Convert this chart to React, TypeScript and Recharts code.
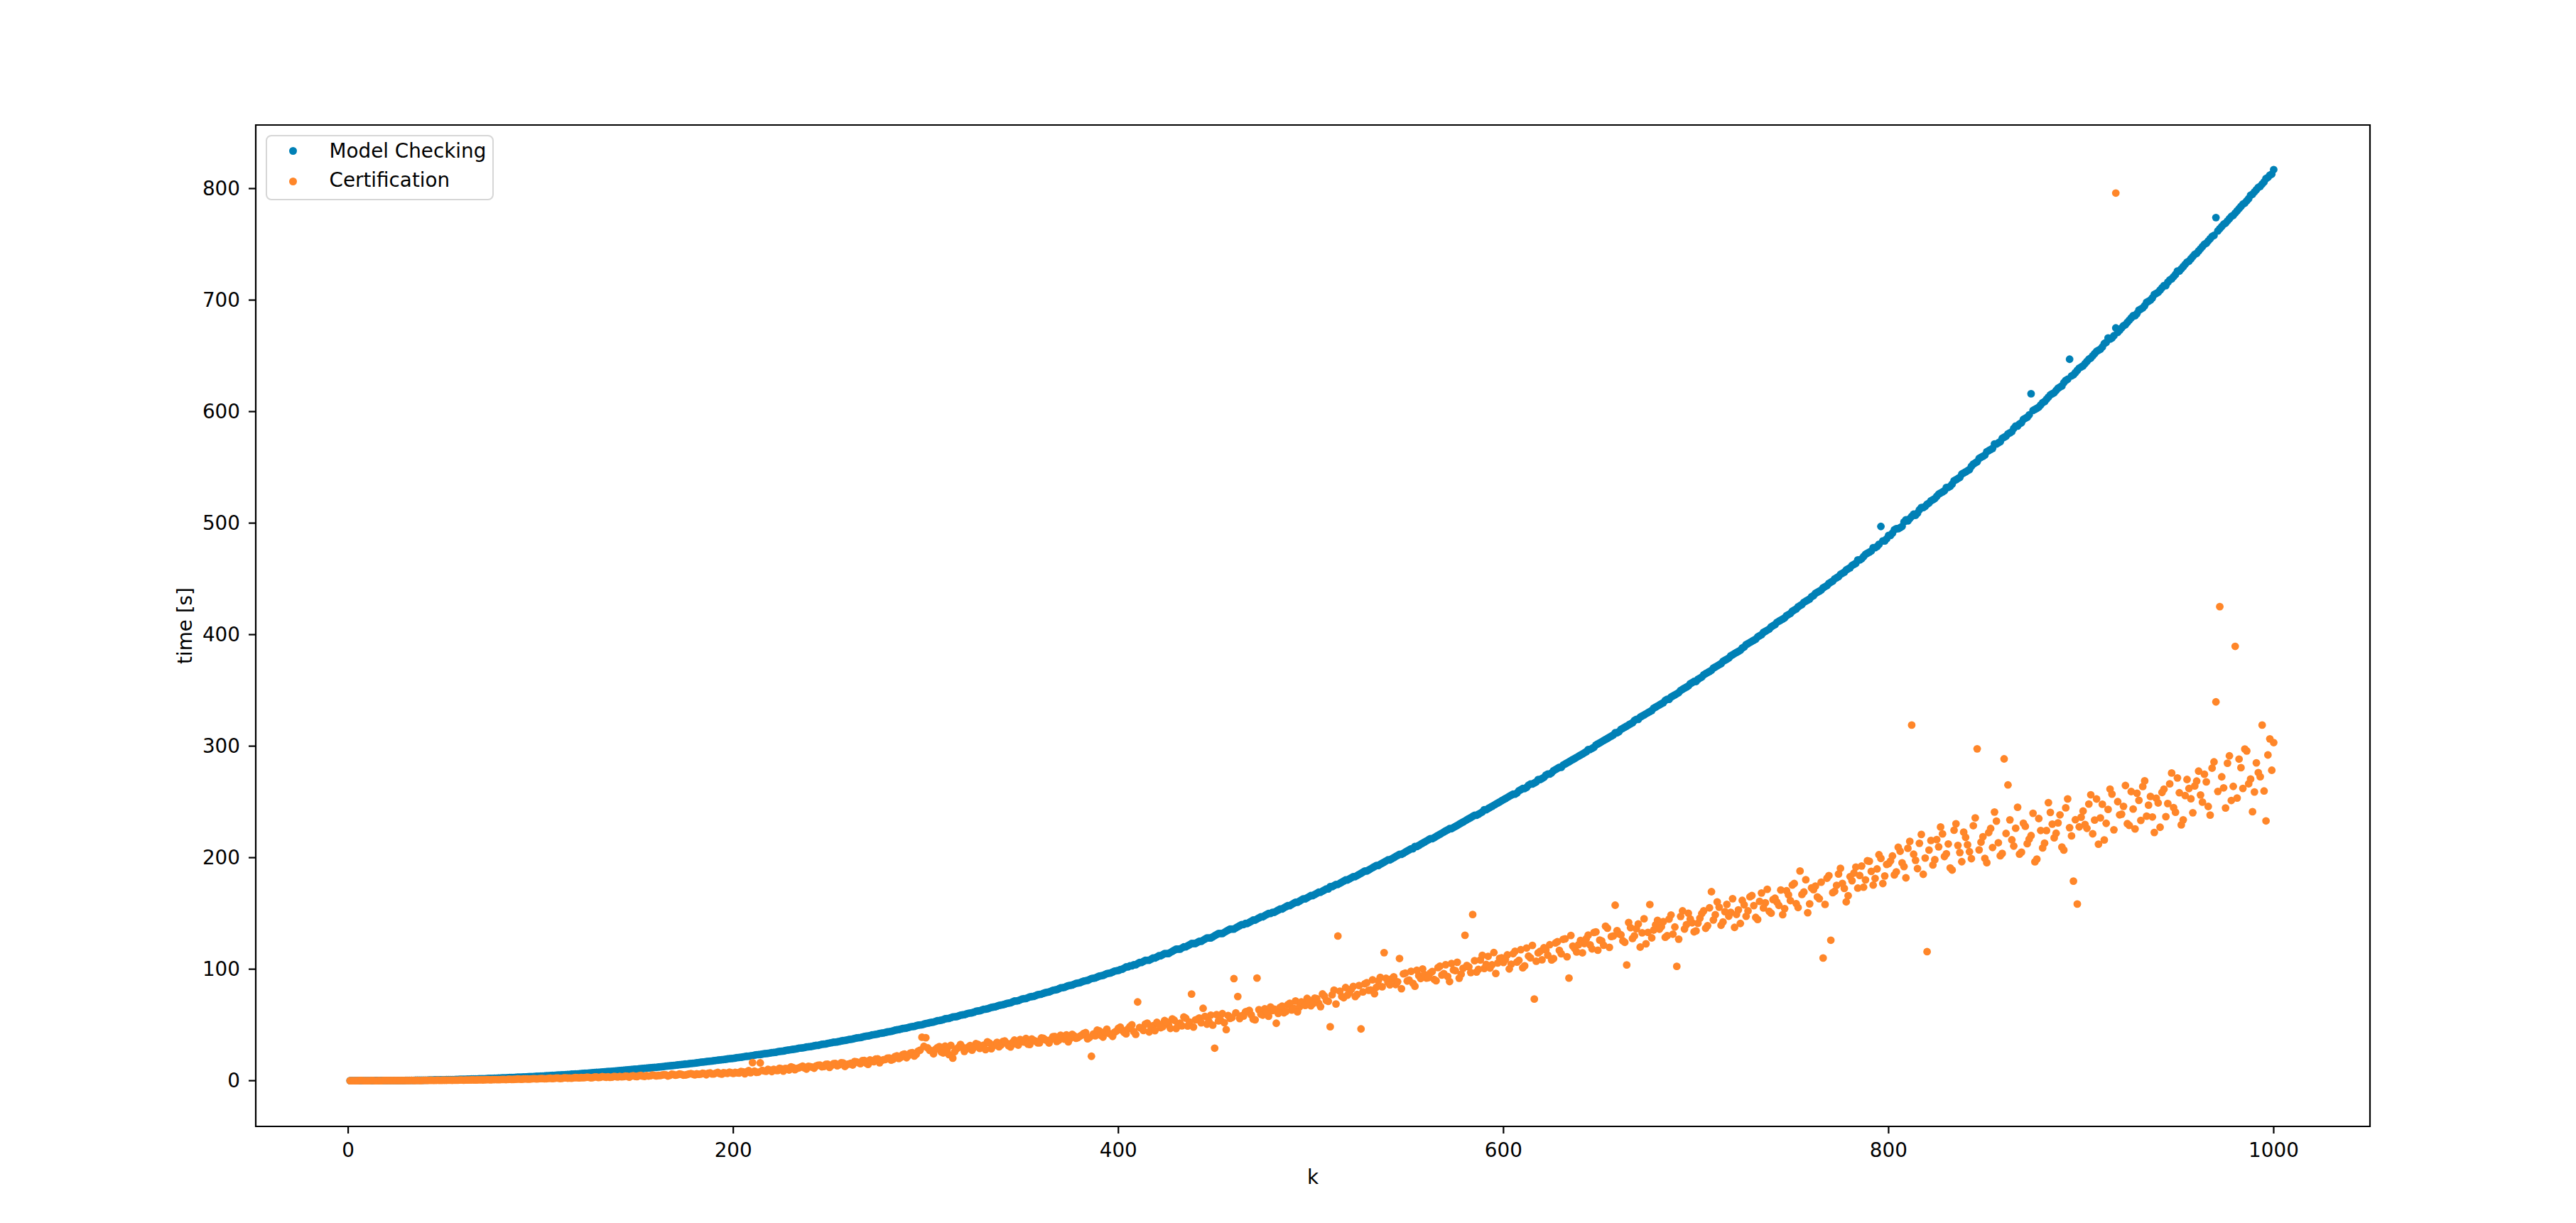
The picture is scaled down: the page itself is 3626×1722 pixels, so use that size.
import { ScatterChart, Scatter, XAxis, YAxis, ReferenceArea, Legend } from 'recharts'

const FONT = 27.8
const FAMILY = 'DejaVu Sans'
const BLUE = '#0080b6'
const ORANGE = '#ff8629'
const SERIES = ['Model Checking', 'Certification']

const X_TICKS = [0, 200, 400, 600, 800, 1000]
const Y_TICKS = [0, 100, 200, 300, 400, 500, 600, 700, 800]

// even k values
const K = [
  2, 4, 6, 8, 10, 12, 14, 16, 18, 20, 22, 24, 26, 28, 30, 32, 34, 36, 38, 40, 42, 44, 46, 48, 50,
  52, 54, 56, 58, 60, 62, 64, 66, 68, 70, 72, 74, 76, 78, 80, 82, 84, 86, 88, 90, 92, 94, 96, 98, 100,
  102, 104, 106, 108, 110, 112, 114, 116, 118, 120, 122, 124, 126, 128, 130, 132, 134, 136, 138, 140, 142, 144, 146, 148, 150,
  152, 154, 156, 158, 160, 162, 164, 166, 168, 170, 172, 174, 176, 178, 180, 182, 184, 186, 188, 190, 192, 194, 196, 198, 200,
  202, 204, 206, 208, 210, 212, 214, 216, 218, 220, 222, 224, 226, 228, 230, 232, 234, 236, 238, 240, 242, 244, 246, 248, 250,
  252, 254, 256, 258, 260, 262, 264, 266, 268, 270, 272, 274, 276, 278, 280, 282, 284, 286, 288, 290, 292, 294, 296, 298, 300,
  302, 304, 306, 308, 310, 312, 314, 316, 318, 320, 322, 324, 326, 328, 330, 332, 334, 336, 338, 340, 342, 344, 346, 348, 350,
  352, 354, 356, 358, 360, 362, 364, 366, 368, 370, 372, 374, 376, 378, 380, 382, 384, 386, 388, 390, 392, 394, 396, 398, 400,
  402, 404, 406, 408, 410, 412, 414, 416, 418, 420, 422, 424, 426, 428, 430, 432, 434, 436, 438, 440, 442, 444, 446, 448, 450,
  452, 454, 456, 458, 460, 462, 464, 466, 468, 470, 472, 474, 476, 478, 480, 482, 484, 486, 488, 490, 492, 494, 496, 498, 500,
  502, 504, 506, 508, 510, 512, 514, 516, 518, 520, 522, 524, 526, 528, 530, 532, 534, 536, 538, 540, 542, 544, 546, 548, 550,
  552, 554, 556, 558, 560, 562, 564, 566, 568, 570, 572, 574, 576, 578, 580, 582, 584, 586, 588, 590, 592, 594, 596, 598, 600,
  602, 604, 606, 608, 610, 612, 614, 616, 618, 620, 622, 624, 626, 628, 630, 632, 634, 636, 638, 640, 642, 644, 646, 648, 650,
  652, 654, 656, 658, 660, 662, 664, 666, 668, 670, 672, 674, 676, 678, 680, 682, 684, 686, 688, 690, 692, 694, 696, 698, 700,
  702, 704, 706, 708, 710, 712, 714, 716, 718, 720, 722, 724, 726, 728, 730, 732, 734, 736, 738, 740, 742, 744, 746, 748, 750,
  752, 754, 756, 758, 760, 762, 764, 766, 768, 770, 772, 774, 776, 778, 780, 782, 784, 786, 788, 790, 792, 794, 796, 798, 800,
  802, 804, 806, 808, 810, 812, 814, 816, 818, 820, 822, 824, 826, 828, 830, 832, 834, 836, 838, 840, 842, 844, 846, 848, 850,
  852, 854, 856, 858, 860, 862, 864, 866, 868, 870, 872, 874, 876, 878, 880, 882, 884, 886, 888, 890, 892, 894, 896, 898, 900,
  902, 904, 906, 908, 910, 912, 914, 916, 918, 920, 922, 924, 926, 928, 930, 932, 934, 936, 938, 940, 942, 944, 946, 948, 950,
  952, 954, 956, 958, 960, 962, 964, 966, 968, 970, 972, 974, 976, 978, 980, 982, 984, 986, 988, 990, 992, 994, 996, 998, 1000,
]

// odd k values
const K_ODD = [
  1, 3, 5, 7, 9, 11, 13, 15, 17, 19, 21, 23, 25, 27, 29, 31, 33, 35, 37, 39, 41, 43, 45, 47, 49,
  51, 53, 55, 57, 59, 61, 63, 65, 67, 69, 71, 73, 75, 77, 79, 81, 83, 85, 87, 89, 91, 93, 95, 97, 99,
  101, 103, 105, 107, 109, 111, 113, 115, 117, 119, 121, 123, 125, 127, 129, 131, 133, 135, 137, 139, 141, 143, 145, 147, 149,
  151, 153, 155, 157, 159, 161, 163, 165, 167, 169, 171, 173, 175, 177, 179, 181, 183, 185, 187, 189, 191, 193, 195, 197, 199,
  201, 203, 205, 207, 209, 211, 213, 215, 217, 219, 221, 223, 225, 227, 229, 231, 233, 235, 237, 239, 241, 243, 245, 247, 249,
  251, 253, 255, 257, 259, 261, 263, 265, 267, 269, 271, 273, 275, 277, 279, 281, 283, 285, 287, 289, 291, 293, 295, 297, 299,
  301, 303, 305, 307, 309, 311, 313, 315, 317, 319, 321, 323, 325, 327, 329, 331, 333, 335, 337, 339, 341, 343, 345, 347, 349,
  351, 353, 355, 357, 359, 361, 363, 365, 367, 369, 371, 373, 375, 377, 379, 381, 383, 385, 387, 389, 391, 393, 395, 397, 399,
  401, 403, 405, 407, 409, 411, 413, 415, 417, 419, 421, 423, 425, 427, 429, 431, 433, 435, 437, 439, 441, 443, 445, 447, 449,
  451, 453, 455, 457, 459, 461, 463, 465, 467, 469, 471, 473, 475, 477, 479, 481, 483, 485, 487, 489, 491, 493, 495, 497, 499,
  501, 503, 505, 507, 509, 511, 513, 515, 517, 519, 521, 523, 525, 527, 529, 531, 533, 535, 537, 539, 541, 543, 545, 547, 549,
  551, 553, 555, 557, 559, 561, 563, 565, 567, 569, 571, 573, 575, 577, 579, 581, 583, 585, 587, 589, 591, 593, 595, 597, 599,
  601, 603, 605, 607, 609, 611, 613, 615, 617, 619, 621, 623, 625, 627, 629, 631, 633, 635, 637, 639, 641, 643, 645, 647, 649,
  651, 653, 655, 657, 659, 661, 663, 665, 667, 669, 671, 673, 675, 677, 679, 681, 683, 685, 687, 689, 691, 693, 695, 697, 699,
  701, 703, 705, 707, 709, 711, 713, 715, 717, 719, 721, 723, 725, 727, 729, 731, 733, 735, 737, 739, 741, 743, 745, 747, 749,
  751, 753, 755, 757, 759, 761, 763, 765, 767, 769, 771, 773, 775, 777, 779, 781, 783, 785, 787, 789, 791, 793, 795, 797, 799,
  801, 803, 805, 807, 809, 811, 813, 815, 817, 819, 821, 823, 825, 827, 829, 831, 833, 835, 837, 839, 841, 843, 845, 847, 849,
  851, 853, 855, 857, 859, 861, 863, 865, 867, 869, 871, 873, 875, 877, 879, 881, 883, 885, 887, 889, 891, 893, 895, 897, 899,
  901, 903, 905, 907, 909, 911, 913, 915, 917, 919, 921, 923, 925, 927, 929, 931, 933, 935, 937, 939, 941, 943, 945, 947, 949,
  951, 953, 955, 957, 959, 961, 963, 965, 967, 969, 971, 973, 975, 977, 979, 981, 983, 985, 987, 989, 991, 993, 995, 997, 999,
]

// Model Checking time [s], even k
const MODEL_CHECKING = [
  0, 0, 0, 0, 0, 0, 0.1, 0.1, 0.1, 0.1,
  0.1, 0.2, 0.2, 0.2, 0.3, 0.3, 0.3, 0.4, 0.4, 0.5,
  0.6, 0.6, 0.7, 0.8, 0.8, 0.9, 1.0, 1.1, 1.2, 1.3,
  1.4, 1.5, 1.6, 1.7, 1.8, 1.9, 2.0, 2.2, 2.3, 2.5,
  2.6, 2.8, 2.9, 3.1, 3.2, 3.4, 3.6, 3.7, 3.9, 4.1,
  4.3, 4.5, 4.7, 4.9, 5.1, 5.3, 5.5, 5.8, 6.0, 6.2,
  6.5, 6.7, 7.0, 7.3, 7.5, 7.8, 8.1, 8.3, 8.6, 8.9,
  9.2, 9.5, 9.8, 10.1, 10.4, 10.8, 11.1, 11.4, 11.7, 12.0,
  12.4, 12.8, 13.2, 13.5, 13.9, 14.3, 14.7, 15.0, 15.4, 15.8,
  16.2, 16.7, 17.1, 17.5, 18.0, 18.4, 18.8, 19.2, 19.7, 20.1,
  20.7, 21.0, 21.7, 22.0, 22.5, 23.3, 23.5, 24.2, 24.5, 25.1,
  25.5, 26.3, 26.6, 27.4, 27.9, 28.3, 29.1, 29.4, 30.2, 30.6,
  31.3, 31.7, 32.6, 33.0, 33.8, 34.5, 34.8, 35.6, 36.1, 36.9,
  37.4, 38.3, 38.7, 39.6, 40.1, 41.0, 41.5, 42.4, 42.8, 43.7,
  44.3, 45.3, 45.8, 46.8, 47.2, 48.3, 48.7, 49.8, 50.2, 51.3,
  52.0, 52.6, 53.8, 54.3, 55.5, 55.9, 57.1, 57.5, 58.8, 59.2,
  60.4, 60.9, 62.2, 62.7, 64.0, 64.5, 65.8, 66.2, 67.5, 68.1,
  69.3, 69.9, 71.4, 71.8, 73.3, 73.7, 75.2, 75.6, 77.1, 77.6,
  78.9, 79.6, 81.1, 81.7, 83.2, 83.7, 85.2, 85.8, 87.3, 87.9,
  89.3, 90.0, 91.6, 92.2, 93.8, 94.4, 96.0, 96.6, 98.3, 98.9,
  100, 102, 103, 104, 105, 106, 108, 108, 110, 111,
  112, 114, 114, 116, 118, 118, 120, 121, 123, 123,
  125, 126, 128, 128, 130, 132, 132, 134, 136, 136,
  138, 140, 141, 142, 144, 145, 147, 148, 150, 151,
  152, 154, 155, 157, 158, 160, 161, 163, 164, 166,
  167, 169, 170, 172, 174, 175, 176, 178, 180, 181,
  183, 184, 186, 188, 189, 191, 193, 194, 196, 198,
  199, 201, 203, 204, 206, 208, 210, 211, 213, 215,
  217, 218, 220, 222, 224, 226, 227, 229, 231, 233,
  235, 237, 238, 240, 243, 244, 246, 248, 250, 252,
  254, 256, 257, 260, 262, 263, 266, 267, 270, 271,
  274, 275, 278, 280, 281, 284, 286, 288, 290, 292,
  294, 297, 298, 301, 303, 305, 307, 309, 312, 313,
  316, 318, 320, 323, 324, 327, 329, 331, 334, 336,
  338, 341, 342, 345, 347, 350, 352, 354, 357, 358,
  361, 364, 366, 368, 371, 373, 376, 378, 381, 383,
  385, 388, 391, 393, 395, 398, 400, 403, 405, 408,
  411, 413, 415, 418, 421, 423, 426, 429, 431, 434,
  437, 439, 442, 444, 447, 450, 452, 455, 458, 460,
  463, 467, 468, 472, 474, 478, 479, 497, 484, 489,
  491, 495, 496, 501, 502, 506, 507, 512, 514, 517,
  520, 522, 526, 528, 532, 533, 538, 540, 544, 546,
  548, 553, 555, 559, 561, 565, 567, 571, 573, 577,
  580, 582, 587, 589, 593, 595, 616, 602, 604, 608,
  611, 615, 617, 621, 623, 628, 647, 633, 637, 640,
  643, 647, 650, 654, 656, 661, 666, 666, 675, 673,
  677, 680, 684, 686, 691, 693, 698, 700, 705, 707,
  711, 713, 718, 721, 726, 728, 732, 735, 739, 742,
  746, 750, 753, 757, 774, 764, 768, 771, 775, 778,
  782, 786, 789, 794, 797, 801, 804, 809, 812, 817,
]

// Model Checking time [s], odd k
const MODEL_CHECKING_ODD = [
  0, 0, 0, 0, 0, 0, 0, 0.1, 0.1, 0.1,
  0.1, 0.1, 0.2, 0.2, 0.2, 0.3, 0.3, 0.4, 0.4, 0.4,
  0.5, 0.6, 0.7, 0.7, 0.8, 0.9, 0.9, 1.0, 1.1, 1.2,
  1.3, 1.4, 1.5, 1.6, 1.7, 1.8, 2.0, 2.1, 2.2, 2.4,
  2.5, 2.7, 2.9, 3.0, 3.2, 3.3, 3.5, 3.6, 3.8, 4.0,
  4.2, 4.4, 4.6, 4.8, 5.0, 5.2, 5.4, 5.6, 5.9, 6.1,
  6.3, 6.6, 6.9, 7.1, 7.4, 7.7, 7.9, 8.2, 8.5, 8.7,
  9.0, 9.3, 9.7, 10.0, 10.3, 10.6, 10.9, 11.3, 11.6, 11.9,
  12.2, 12.6, 13.0, 13.4, 13.7, 14.1, 14.5, 14.9, 15.2, 15.6,
  16.0, 16.5, 16.9, 17.3, 17.7, 18.2, 18.6, 19.0, 19.5, 19.9,
  20.3, 20.9, 21.3, 21.9, 22.3, 22.9, 23.4, 23.8, 24.4, 24.8,
  25.3, 25.9, 26.4, 27.0, 27.6, 28.1, 28.7, 29.3, 29.8, 30.4,
  30.9, 31.6, 32.1, 32.8, 33.4, 34.1, 34.6, 35.2, 35.9, 36.5,
  37.1, 37.9, 38.5, 39.1, 39.9, 40.5, 41.3, 41.9, 42.6, 43.3,
  44.0, 44.7, 45.6, 46.3, 47.0, 47.8, 48.5, 49.3, 50.0, 50.7,
  51.6, 52.3, 53.2, 54.0, 54.8, 55.7, 56.5, 57.3, 58.1, 59.0,
  59.8, 60.6, 61.5, 62.5, 63.3, 64.2, 65.1, 66.0, 66.9, 67.8,
  68.6, 69.6, 70.6, 71.5, 72.5, 73.5, 74.4, 75.4, 76.3, 77.4,
  78.3, 79.3, 80.3, 81.4, 82.4, 83.4, 84.5, 85.5, 86.5, 87.6,
  88.6, 89.7, 90.8, 91.9, 93.0, 94.1, 95.2, 96.3, 97.4, 98.6,
  99.7, 101, 102, 103, 104, 106, 107, 108, 109, 110,
  112, 113, 114, 115, 117, 118, 119, 120, 122, 123,
  124, 125, 127, 128, 129, 131, 132, 133, 135, 136,
  137, 139, 140, 141, 143, 144, 146, 147, 149, 150,
  151, 153, 154, 156, 157, 159, 160, 162, 163, 165,
  166, 168, 169, 171, 172, 174, 176, 177, 179, 180,
  182, 183, 185, 187, 188, 190, 192, 193, 195, 197,
  198, 200, 202, 203, 205, 207, 208, 210, 212, 214,
  216, 217, 219, 221, 223, 225, 226, 228, 230, 232,
  234, 236, 238, 239, 241, 243, 245, 247, 249, 251,
  253, 255, 257, 258, 261, 262, 265, 266, 268, 270,
  272, 275, 276, 279, 281, 283, 285, 287, 289, 291,
  293, 295, 297, 299, 302, 304, 306, 308, 310, 312,
  315, 317, 319, 321, 324, 326, 328, 330, 332, 335,
  337, 339, 342, 344, 346, 348, 351, 353, 356, 358,
  360, 362, 365, 367, 370, 372, 374, 377, 379, 382,
  384, 386, 389, 392, 394, 396, 399, 402, 404, 407,
  409, 412, 414, 417, 419, 422, 425, 427, 430, 432,
  435, 438, 440, 443, 446, 448, 451, 454, 456, 459,
  462, 464, 467, 470, 473, 475, 478, 481, 484, 486,
  489, 494, 495, 497, 503, 504, 508, 509, 514, 515,
  518, 521, 524, 527, 529, 532, 535, 539, 541, 545,
  547, 551, 554, 558, 560, 564, 566, 571, 572, 576,
  578, 581, 585, 587, 590, 594, 597, 601, 603, 606,
  609, 613, 616, 619, 622, 626, 629, 632, 635, 639,
  641, 645, 648, 652, 655, 658, 662, 665, 668, 671,
  675, 678, 682, 686, 688, 692, 695, 699, 702, 706,
  709, 713, 716, 719, 723, 726, 730, 734, 737, 741,
  744, 748, 751, 755, 758, 762, 766, 769, 773, 776,
  780, 784, 787, 791, 795, 799, 802, 806, 810, 813,
]

// Certification time [s], even k
const CERTIFICATION = [
  0, 0, 0.1, 0, 0, 0.1, 0, 0.1, 0.1, 0.1,
  0.1, 0.1, 0.2, 0.1, 0.2, 0.2, 0.2, 0.3, 0.2, 0.3,
  0.3, 0.3, 0.4, 0.3, 0.4, 0.5, 0.4, 0.5, 0.6, 0.5,
  0.6, 0.7, 0.6, 0.8, 0.7, 0.9, 0.8, 1.0, 0.9, 1.1,
  1.0, 1.3, 1.2, 1.5, 1.3, 1.6, 1.4, 1.8, 1.6, 1.9,
  1.7, 2.1, 1.9, 2.4, 2.0, 2.6, 2.3, 2.2, 2.8, 2.5,
  2.7, 3.2, 2.6, 3.4, 2.9, 3.6, 3.1, 3.0, 3.8, 3.3,
  3.5, 4.1, 3.2, 4.4, 3.7, 4.8, 3.9, 4.2, 5.1, 4.3,
  4.6, 5.4, 4.2, 5.8, 4.9, 6.1, 5.0, 5.5, 6.4, 5.2,
  5.7, 6.6, 5.3, 7.0, 6.1, 7.4, 5.9, 6.8, 7.6, 6.5,
  7.1, 8.3, 6.2, 9.0, 16.2, 7.5, 16.0, 8.8, 10.1, 8.2,
  9.3, 11.2, 8.6, 10.8, 12.4, 9.9, 11.5, 13.1, 10.4, 12.6,
  11.2, 13.8, 12.5, 14.6, 11.9, 15.2, 13.4, 16.0, 12.8, 14.9,
  14.1, 16.8, 15.3, 18.2, 14.6, 17.5, 19.4, 16.1, 18.8, 20.2,
  18.5, 21.7, 19.9, 23.4, 20.6, 24.8, 22.1, 26.5, 39.0, 38.5,
  27.2, 24.1, 29.6, 25.8, 31.0, 23.4, 20.2, 28.7, 32.5, 26.3,
  30.1, 27.4, 33.2, 29.0, 31.8, 34.9, 28.6, 32.7, 30.4, 35.1,
  33.6, 30.2, 36.4, 31.9, 35.0, 37.8, 32.5, 36.1, 34.0, 38.3,
  36.7, 33.8, 39.5, 35.2, 40.8, 37.3, 34.9, 41.6, 38.0, 39.9,
  42.4, 37.6, 21.9, 40.3, 44.8, 39.1, 46.2, 41.7, 43.5, 47.0,
  45.2, 42.0, 48.6, 44.1, 70.6, 46.9, 50.8, 43.7, 49.4, 52.3,
  47.5, 53.9, 50.2, 55.4, 46.8, 51.6, 57.1, 49.0, 77.7, 54.5,
  56.2, 64.9, 50.7, 58.8, 29.2, 53.6, 60.1, 45.8, 55.9, 91.5,
  75.5, 58.3, 61.7, 63.0, 55.2, 92.0, 59.6, 64.4, 57.8, 62.9,
  51.5, 65.8, 60.9, 68.2, 63.4, 71.5, 66.0, 69.7, 73.8, 67.2,
  74.1, 69.5, 77.8, 72.0, 48.4, 81.2, 129.7, 75.6, 83.5, 79.0,
  84.6, 77.3, 46.4, 86.9, 81.0, 90.4, 83.8, 92.7, 114.8, 88.1,
  91.5, 86.2, 109.6, 95.8, 89.4, 98.1, 84.7, 94.3, 100.2, 92.0,
  96.6, 90.8, 101.4, 94.7, 104.0, 88.9, 99.3, 106.2, 95.5, 130.4,
  102.1, 149.0, 97.4, 108.3, 100.6, 111.5, 103.9, 96.2, 109.7, 106.0,
  112.8, 104.5, 116.1, 107.9, 101.3, 119.0, 110.2, 73.2, 114.6, 108.4,
  117.3, 121.9, 109.5, 124.6, 113.8, 127.2, 92.0, 120.7, 115.4, 125.8,
  123.0, 130.6, 118.2, 133.4, 126.1, 121.5, 136.8, 129.3, 157.4, 131.7,
  125.4, 103.8, 137.2, 129.9, 140.5, 132.6, 122.8, 158.0, 135.1, 143.8,
  138.2, 128.6, 144.9, 131.4, 102.5, 147.3, 136.0, 150.2, 141.6, 134.4,
  145.7, 152.4, 139.0, 169.5, 148.8, 155.6, 142.3, 158.1, 150.9, 137.5,
  153.2, 161.7, 147.4, 164.9, 157.0, 144.6, 168.3, 159.5, 151.8, 162.4,
  160.1, 171.0, 154.3, 166.7, 175.4, 158.8, 188.0, 169.2, 150.6, 172.9,
  174.5, 163.2, 110.0, 181.6, 126.0, 169.8, 185.3, 176.9, 160.4, 183.0,
  186.2, 172.7, 192.5, 180.1, 196.8, 175.4, 189.9, 199.3, 183.6, 194.7,
  201.5, 187.3, 205.8, 192.0, 208.4, 318.9, 197.6, 212.9, 185.1, 115.7,
  215.4, 198.2, 209.7, 221.3, 203.5, 190.8, 224.6, 211.0, 196.4, 218.2,
  205.3, 228.7, 297.6, 213.9, 199.4, 222.5, 209.1, 232.8, 201.7, 288.6,
  265.2, 216.0, 226.4, 203.2, 230.9, 212.5, 219.8, 196.3, 235.1, 208.7,
  224.3, 240.6, 217.8, 231.2, 209.5, 244.7, 226.9, 179.0, 158.4, 236.3,
  229.8, 248.1, 221.4, 252.6, 235.7, 215.9, 243.3, 257.0, 796.0, 238.4,
  246.0, 230.5, 259.3, 225.8, 251.4, 263.8, 237.2, 254.9, 222.6, 249.1,
  258.5, 236.8, 266.2, 244.9, 271.5, 229.4, 255.7, 262.0, 240.3, 268.7,
  256.2, 274.8, 245.9, 280.3, 339.7, 425.1, 262.6, 284.7, 251.3, 389.5,
  288.4, 262.1, 295.7, 270.5, 258.9, 276.3, 318.9, 233.0, 306.5, 303.2,
]

// Certification time [s], odd k
const CERTIFICATION_ODD = [
  0, 0, 0, 0.1, 0, 0, 0.1, 0, 0, 0.1,
  0.1, 0.2, 0.1, 0.1, 0.2, 0.2, 0.3, 0.2, 0.2, 0.3,
  0.3, 0.4, 0.3, 0.4, 0.4, 0.4, 0.5, 0.5, 0.5, 0.6,
  0.6, 0.6, 0.7, 0.7, 0.8, 0.8, 0.9, 0.9, 1.0, 1.0,
  1.1, 1.2, 1.1, 1.3, 1.4, 1.5, 1.5, 1.6, 1.7, 1.8,
  1.9, 1.8, 2.2, 2.1, 2.3, 2.1, 2.5, 2.4, 2.6, 2.7,
  2.8, 2.9, 3.0, 2.8, 3.3, 3.1, 3.4, 3.5, 3.2, 3.6,
  3.8, 3.6, 4.0, 4.2, 3.9, 4.5, 4.1, 4.6, 4.4, 4.8,
  4.7, 5.0, 5.2, 4.8, 5.5, 5.3, 5.7, 5.1, 6.0, 5.8,
  6.2, 5.9, 6.3, 6.7, 6.0, 6.9, 6.4, 7.2, 6.6, 7.1,
  7.4, 6.8, 7.9, 8.1, 7.2, 8.6, 7.7, 9.2, 8.4, 9.5,
  10.2, 9.1, 10.6, 11.0, 9.6, 11.8, 10.9, 12.2, 11.4, 12.9,
  12.1, 13.2, 14.0, 12.7, 14.8, 13.6, 15.4, 14.3, 15.9, 14.7,
  15.6, 17.2, 16.2, 17.9, 15.8, 18.6, 17.0, 19.6, 18.1, 19.0,
  20.4, 19.2, 22.3, 21.0, 23.9, 22.6, 25.1, 23.7, 27.3, 30.8,
  29.4, 26.7, 28.1, 30.6, 24.9, 27.8, 31.7, 26.0, 29.9, 30.2,
  28.3, 31.5, 29.7, 32.6, 30.9, 27.8, 33.8, 31.2, 34.4, 32.0,
  35.6, 31.3, 34.2, 33.0, 36.9, 34.7, 32.8, 37.4, 35.5, 33.9,
  38.1, 35.9, 37.0, 39.6, 36.2, 38.7, 41.1, 37.8, 40.2, 38.6,
  40.9, 43.1, 38.8, 41.8, 45.3, 40.6, 43.9, 42.5, 39.7, 44.6,
  48.0, 43.2, 46.4, 50.1, 41.5, 47.7, 45.0, 51.6, 47.2, 44.9,
  50.6, 48.3, 52.9, 46.9, 54.2, 50.0, 49.2, 56.0, 52.5, 48.1,
  55.0, 51.9, 57.6, 53.1, 49.8, 59.2, 54.4, 52.0, 58.4, 56.6,
  60.8, 55.7, 57.9, 62.3, 59.0, 54.6, 63.7, 58.8, 61.4, 66.1,
  64.2, 60.3, 66.8, 62.1, 69.4, 65.0, 61.8, 70.6, 67.5, 72.3,
  69.0, 73.6, 66.4, 75.9, 71.2, 77.0, 68.8, 80.3, 74.4, 76.7,
  82.1, 75.5, 85.3, 79.6, 87.9, 81.4, 78.0, 89.5, 84.2, 91.8,
  86.0, 93.1, 88.7, 82.5, 96.4, 90.2, 87.3, 99.0, 91.6, 95.2,
  92.4, 97.9, 89.6, 102.7, 96.0, 93.5, 105.1, 98.7, 91.9, 100.8,
  103.3, 97.0, 107.6, 99.8, 112.4, 104.2, 101.0, 114.9, 105.5, 110.1,
  108.7, 100.2, 113.9, 106.4, 117.5, 103.0, 111.7, 121.3, 107.1, 116.0,
  119.2, 112.6, 108.3, 123.5, 116.9, 126.8, 111.1, 130.2, 118.6, 122.0,
  114.7, 127.4, 121.8, 132.9, 117.0, 125.3, 138.5, 119.6, 129.7, 134.6,
  130.8, 124.1, 141.9, 127.5, 136.3, 119.8, 145.2, 133.0, 128.1, 139.7,
  135.9, 142.7, 130.0, 148.6, 137.8, 126.9, 152.3, 139.9, 145.0, 133.5,
  141.2, 149.9, 136.7, 155.0, 144.1, 160.3, 139.4, 151.6, 147.5, 163.2,
  149.1, 141.0, 157.7, 152.3, 166.0, 146.4, 160.8, 154.9, 171.6, 150.2,
  163.6, 157.2, 148.9, 170.4, 161.5, 176.8, 155.3, 167.0, 180.2, 158.6,
  171.3, 164.8, 178.0, 158.1, 183.9, 168.6, 175.2, 190.4, 172.4, 165.9,
  179.3, 191.6, 184.0, 173.5, 197.2, 187.7, 181.4, 202.6, 176.8, 193.9,
  197.0, 184.5, 209.3, 195.4, 181.9, 214.6, 203.1, 190.2, 220.8, 199.7,
  206.8, 193.4, 216.2, 227.5, 201.0, 212.3, 188.9, 230.4, 204.6, 222.9,
  211.6, 199.1, 235.7, 207.0, 218.8, 195.5, 226.2, 240.9, 213.4, 203.8,
  221.7, 233.9, 210.4, 245.2, 204.9, 228.1, 216.6, 239.8, 198.7, 224.4,
  213.0, 249.3, 230.1, 221.9, 238.4, 206.8, 252.7, 219.5, 234.0, 227.6,
  241.8, 226.3, 256.4, 233.7, 212.1, 247.9, 230.8, 261.5, 225.0, 250.2,
  239.0, 264.7, 228.9, 243.6, 257.8, 233.4, 268.9, 247.1, 236.5, 253.3,
  227.3, 261.4, 248.5, 275.9, 240.7, 258.2, 233.9, 270.1, 252.8, 264.3,
  277.6, 249.8, 268.0, 238.2, 285.9, 259.4, 272.5, 244.6, 291.3, 263.9,
  253.5, 280.7, 297.4, 266.3, 241.2, 285.0, 272.6, 259.8, 292.1, 278.4,
]

const modelData = [
  ...K.map((k, i) => ({ k, t: MODEL_CHECKING[i] })),
  ...K_ODD.map((k, i) => ({ k, t: MODEL_CHECKING_ODD[i] })),
]
const certData = [
  ...K.map((k, i) => ({ k, t: CERTIFICATION[i] })),
  ...K_ODD.map((k, i) => ({ k, t: CERTIFICATION_ODD[i] })),
]

const dot = (color: string) => (p: any) => <circle cx={p.cx} cy={p.cy} r={5.4} fill={color} />

const tickStyle = { fill: '#000', fontSize: FONT, fontFamily: FAMILY }
const tickLine = { stroke: '#000', strokeWidth: 2.2 }

function YTitle(props: any) {
  const vb = props.viewBox || {}
  const cx = (vb.x ?? 0) + (vb.width ?? 360) - 100
  const cy = (vb.y ?? 176) + (vb.height ?? 1410) / 2
  return (
    <text x={cx} y={cy} transform={`rotate(-90 ${cx} ${cy})`} textAnchor="middle" dominantBaseline="central"
      fontSize={FONT} fontFamily={FAMILY} fill="#000">time [s]</text>
  )
}

function LegendBox({ payload }: any) {
  const items = [...(payload || [])].sort((a: any, b: any) => SERIES.indexOf(a.value) - SERIES.indexOf(b.value))
  return (
    <div style={{ width: 321, height: 92, boxSizing: 'border-box', border: '2.5px solid #d6d6d6', borderRadius: 8,
      background: 'rgba(255,255,255,0.8)', position: 'relative', fontFamily: FAMILY, fontSize: FONT, color: '#000' }}>
      {items.map((e: any, i: number) => (
        <div key={e.value}>
          <div style={{ position: 'absolute', left: 31, top: 15 + i * 43, width: 11, height: 11, borderRadius: '50%', background: e.color }} />
          <div style={{ position: 'absolute', left: 87.5, top: 5.2 + i * 41, lineHeight: '32px', whiteSpace: 'nowrap' }}>{e.value}</div>
        </div>
      ))}
    </div>
  )
}

export default function App() {
  return (
    <div style={{ position: 'absolute', left: 0, top: 0, background: '#fff' }}>
      <ScatterChart width={3626} height={1722} margin={{ top: 176, right: 290, bottom: 0, left: 0 }}
        style={{ fontFamily: FAMILY }}>
        <XAxis dataKey="k" type="number" domain={[-48, 1050]} ticks={X_TICKS} allowDataOverflow height={136}
          axisLine={false} tickLine={tickLine} tickSize={10} tickMargin={13} tick={tickStyle}
          label={{ value: 'k', position: 'insideBottom', offset: 55, fill: '#000', fontSize: FONT, fontFamily: FAMILY }} />
        <YAxis dataKey="t" type="number" domain={[-41, 857]} ticks={Y_TICKS} allowDataOverflow width={360}
          axisLine={false} tickLine={tickLine} tickSize={10} tickMargin={12} tick={tickStyle} label={YTitle} />
        <ReferenceArea x1={-48} x2={1050} y1={-41} y2={857} fill="none" stroke="#000" strokeWidth={2.2} ifOverflow="visible" />
        <Legend layout="vertical" align="center" verticalAlign="middle" content={LegendBox}
          wrapperStyle={{ left: 374, top: 190, width: 321, height: 92 }} />
        <Scatter name="Model Checking" data={modelData} fill={BLUE} shape={dot(BLUE)} isAnimationActive={false} />
        <Scatter name="Certification" data={certData} fill={ORANGE} shape={dot(ORANGE)} isAnimationActive={false} />
      </ScatterChart>
    </div>
  )
}
